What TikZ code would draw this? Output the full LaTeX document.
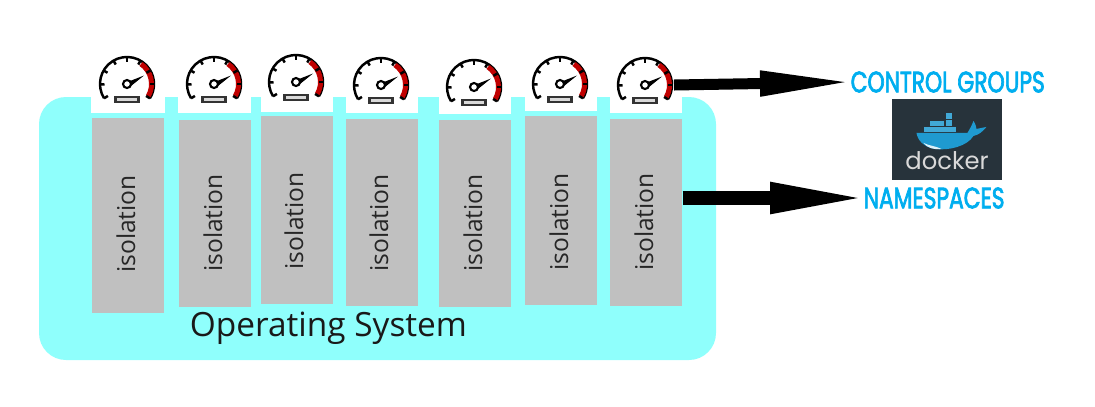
\documentclass[tikz,border=0pt]{standalone}
\usepackage{fontspec}
\setmainfont{Open Sans}
\newfontfamily\bannerfont[FakeBold=3]{Poppins}
\newfontfamily\logofont{Poppins}
\usetikzlibrary{arrows.meta, positioning}
\definecolor{oscyan}{HTML}{8FFFFC}
\definecolor{colgray}{HTML}{C0C0C0}
\definecolor{gaugered}{HTML}{C00000}
\definecolor{bannerblue}{HTML}{00AEEF}
\definecolor{logodark}{HTML}{27333B}
\definecolor{whaleblue}{HTML}{1F9AD0}
\tikzset{
    column/.style={rectangle, fill=colgray, minimum width=0.72cm, inner sep=0pt},
    collabel/.style={rotate=90, font=\fontsize{7}{8}\selectfont, text=black!85},
    notch/.style={fill=white},
    crate/.style={fill=whaleblue!85!white},
    bigarrow/.style={line width=0.11cm, black, shorten >=-0.05cm, -{Triangle[length=0.95cm, width=0.23cm]}},
    banner/.style={font=\bannerfont\fontsize{6.2}{8}\selectfont, text=bannerblue, inner sep=0pt},
    gauge/.pic={
        \draw[line width=0.7pt, black] (212:0.27) arc (212:-32:0.27);
        \draw[line width=0.05cm, gaugered] (55:0.245) arc (55:-30:0.245);
        \foreach \a in {212,181,150,120,90,60,30,0,-32}
            \draw[line width=0.7pt, black] (\a:0.27) -- (\a:0.225);
        \draw[line width=0.6pt, black, fill=white] (0,0) circle (0.04);
        \fill[black] (0.03,0.03) -- (0.17,0.085) -- (0.04,-0.02) -- cycle;
        \draw[line width=0.7pt, black!80, fill=black!15] (-0.115,-0.18) rectangle (0.115,-0.13);
        \coordinate (-east) at (0.29,0);
    },
}

\begin{document}
\begin{tikzpicture}
\useasboundingbox (0,0) rectangle (10.95,4.06);

% Operating system
\fill[oscyan, rounded corners=0.27cm] (0.39,0.46) rectangle (7.16,3.09);
\node[font=\fontsize{9.5}{11}\selectfont, text=black!90, inner sep=0pt] (os) at (3.285,0.78) {Operating System};

% Notches
\fill[notch] (0.91,3.12) rectangle (1.65,2.93);
\fill[notch] (1.78,3.12) rectangle (2.51,2.93);
\fill[notch] (2.61,3.12) rectangle (3.33,2.94);
\fill[notch] (3.46,3.12) rectangle (4.18,2.93);
\fill[notch] (4.39,3.12) rectangle (5.11,2.92);
\fill[notch] (5.25,3.12) rectangle (5.97,2.95);
\fill[notch] (6.10,3.12) rectangle (6.82,2.93);

% Columns
\node[column, minimum height=1.95cm] (col1) at (1.28,1.905) {};
\node[column, minimum height=1.87cm] (col2) at (2.15,1.93) {};
\node[column, minimum height=1.88cm] (col3) at (2.97,1.96) {};
\node[column, minimum height=1.87cm] (col4) at (3.82,1.935) {};
\node[column, minimum height=1.87cm] (col5) at (4.75,1.925) {};
\node[column, minimum height=1.89cm] (col6) at (5.61,1.955) {};
\node[column, minimum height=1.87cm] (col7) at (6.46,1.935) {};

% Column labels
\node[collabel] (lab1) at (1.26,1.82) {isolation};
\node[collabel] (lab2) at (2.13,1.83) {isolation};
\node[collabel] (lab3) at (2.94,1.85) {isolation};
\node[collabel] (lab4) at (3.79,1.83) {isolation};
\node[collabel] (lab5) at (4.73,1.83) {isolation};
\node[collabel] (lab6) at (5.59,1.84) {isolation};
\node[collabel] (lab7) at (6.44,1.84) {isolation};

% Gauges
\pic (g1) at (1.27,3.22) {gauge};
\pic (g2) at (2.14,3.22) {gauge};
\pic (g3) at (2.96,3.24) {gauge};
\pic (g4) at (3.81,3.21) {gauge};
\pic (g5) at (4.74,3.19) {gauge};
\pic (g6) at (5.60,3.22) {gauge};
\pic (g7) at (6.45,3.21) {gauge};

% Right hand labels
\node[banner, anchor=west] (cgroups) at (8.50,3.24) {\scalebox{1}[1.35]{CONTROL GROUPS}};
\node[banner, anchor=west] (nspaces) at (8.63,2.08) {\scalebox{1}[1.35]{NAMESPACES}};

% Arrows
\draw[bigarrow] (g7-east) -- (cgroups.west);
\draw[bigarrow, line width=0.14cm, shorten >=-0.07cm, -{Triangle[length=1cm, width=0.28cm]}] (col7.east |- nspaces.west) -- (nspaces.west);

% Docker logo
\node[rectangle, fill=logodark, minimum width=1.10cm, minimum height=0.81cm, inner sep=0pt] (logo) at (9.47,2.665) {};
\node[font=\logofont\fontsize{6.9}{9}\selectfont, text=black!15, inner sep=0pt] (logotext) at (9.47,2.45) {docker};
\begin{scope}[x=0.01cm, y=-0.01cm, shift={(0cm,4.06cm)}]
\fill[whaleblue] (917,133) -- (968,133) .. controls (971,128) and (973,124) .. (974,121)
    .. controls (976,124) and (977,127) .. (977,129) -- (987,127)
    .. controls (983,132) and (979,135) .. (974,136)
    .. controls (968,146) and (950,151) .. (935,149)
    .. controls (924,147) and (918,140) .. (917,133) -- cycle;
\fill[white!85!whaleblue] (924,143) .. controls (930,146) and (936,146) .. (942,149)
    .. controls (934,150) and (928,148) .. (924,143) -- cycle;
\fill[crate] (925,127) rectangle (957,132);
\fill[crate] (931,121) rectangle (945,126);
\fill[crate] (947,120) rectangle (953,126);
\fill[crate] (947,113) rectangle (953,119);
\end{scope}
\end{tikzpicture}
\end{document}
